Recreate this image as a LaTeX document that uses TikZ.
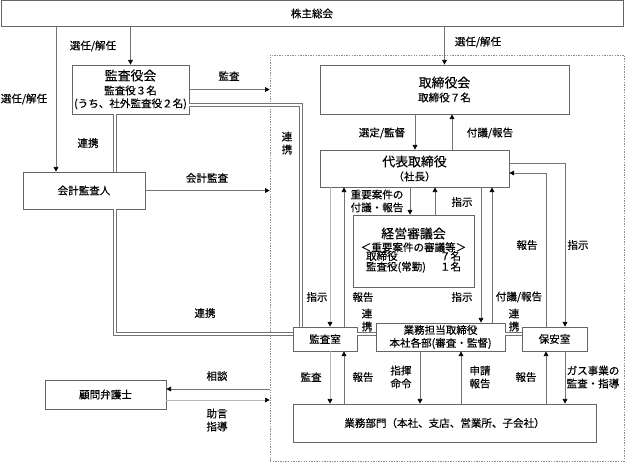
\documentclass[tikz,border=0pt]{standalone}
\usepackage{fontspec}
\setmainfont{Noto Sans CJK JP}[FakeBold=0.3]
\usetikzlibrary{arrows.meta}
\newcommand\bigtxt{\fontsize{11}{13}\selectfont}
\newcommand\smalltxt{\fontsize{9}{11}\selectfont}
\begin{document}
\begin{tikzpicture}[x=0.03cm, y=-0.03cm,
    every node/.style={align=center, inner sep=0pt, font=\smalltxt},
    box/.style={draw=black!60, fill=white, line width=0.6pt},
    link/.style={draw=black!55, line width=0.6pt, -{Triangle[length=4pt,width=4pt,color=black]}},
    lightlink/.style={link, draw=black!28},
    dblline/.style={draw=black!55, line width=2.6pt, postaction={draw=white, line width=1.2pt}},
    zone/.style={draw=black!45, dash pattern=on 1.2pt off 1pt, line width=0.5pt}]

  \useasboundingbox (0,0) rectangle (625,462);

  \node[zone, minimum width=10.62cm, minimum height=12.18cm] (zone) at (447,258) {};

  \node[box, minimum width=18.66cm, minimum height=0.76cm] (soukai) at (312,13.5) {株主総会};
  \node[box, minimum width=3.51cm, minimum height=1.47cm] (kansayakukai) at (130.5,89.5)
    {{\bigtxt 監査役会}\\[1pt]監査役３名\\(うち、社外監査役２名)};
  \node[box, minimum width=3.66cm, minimum height=1.11cm] (kaikei) at (84,190.5) {会計監査人};
  \node[box, minimum width=3.63cm, minimum height=0.87cm] (bengoshi) at (105.5,394.5) {顧問弁護士};
  \node[box, minimum width=7.47cm, minimum height=1.47cm] (torishimari) at (444.5,89.5)
    {{\bigtxt 取締役会}\\[1pt]取締役７名};
  \node[box, minimum width=5.67cm, minimum height=1.11cm] (daihyo) at (414.5,168.5)
    {{\bigtxt 代表取締役}\\[1pt]（社長）};
  \node[box, minimum width=3.63cm, minimum height=2.16cm] (keiei) at (413.5,251)
    {{\bigtxt 経営審議会}\\＜重要案件の審議等＞\\[-2pt]
     \begin{tabular*}{2.85cm}{@{}l@{\extracolsep{\fill}}r@{}}取締役&７名\\[-2pt]監査役(常勤)&１名\end{tabular*}};
  \node[box, minimum width=1.92cm, minimum height=0.72cm] (kansashitsu) at (325,339) {監査室};
  \node[box, minimum width=3.87cm, minimum height=0.84cm] (gyomutanto) at (440.5,337)
    {業務担当取締役\\本社各部(審査・監督)};
  \node[box, minimum width=1.95cm, minimum height=0.72cm] (hoan) at (554.5,339) {保安室};
  \node[box, minimum width=9.09cm, minimum height=1.14cm] (bumon) at (444.5,423)
    {業務部門（本社、支店、営業所、子会社）};

  \foreach \v in {56,115,301,330,344,410,415,420,435,452,461,481,492,546,565}
    \coordinate (x\v) at (\v,0);
  \foreach \v in {105,163,173,334,389,400}
    \coordinate (y\v) at (0,\v);

  \draw[link] (soukai.south -| kansayakukai.north) -- (kansayakukai.north);
  \draw[link] (soukai.south -| x56) -- (kaikei.north -| x56);
  \draw[link] (soukai.south -| torishimari.north) -- (torishimari.north);
  \draw[link] (kansayakukai.east) -- (kansayakukai.east -| zone.west);
  \draw[link] (kaikei.east) -- (kaikei.east -| zone.west);
  \draw[link] (zone.west |- y389) -- (bengoshi.east |- y389);
  \draw[lightlink] (bengoshi.east |- y400) -- (zone.west |- y400);

  \draw[dblline] (kansayakukai.east |- y105) -| (kansashitsu.north -| x301);
  \draw[dblline] (kansayakukai.south -| x115) -- (kaikei.north -| x115);
  \draw[dblline] (kaikei.south -| x115) |- (kansashitsu.west |- y334);
  \draw[dblline] (kansashitsu.east |- y334) -- (gyomutanto.west |- y334);
  \draw[dblline] (gyomutanto.east |- y334) -- (hoan.west |- y334);

  \draw[link] (torishimari.south -| x415) -- (daihyo.north -| x415);
  \draw[link] (daihyo.north -| x452) -- (torishimari.south -| x452);
  \draw[link] (daihyo.south -| x410) -- (keiei.north -| x410);
  \draw[link] (keiei.north -| x435) -- (daihyo.south -| x435);
  \draw[lightlink] (daihyo.south -| x330) -- (kansashitsu.north -| x330);
  \draw[link] (kansashitsu.north -| x344) -- (daihyo.south -| x344);
  \draw[link] (daihyo.south -| x481) -- (gyomutanto.north -| x481);
  \draw[link] (gyomutanto.north -| x492) -- (daihyo.south -| x492);
  \draw[link] (daihyo.east |- y163) -| (hoan.north -| x565);
  \draw[link] (hoan.north -| x546) |- (daihyo.east |- y173);
  \draw[lightlink] (kansashitsu.south -| x330) -- (bumon.north -| x330);
  \draw[link] (bumon.north -| x344) -- (kansashitsu.south -| x344);
  \draw[link] (gyomutanto.south -| x420) -- (bumon.north -| x420);
  \draw[link] (bumon.north -| x461) -- (gyomutanto.south -| x461);
  \draw[link] (bumon.north -| x546) -- (hoan.south -| x546);
  \draw[link] (hoan.south -| x565) -- (bumon.north -| x565);

  \node (senin-a) at (93,46) {選任/解任};
  \node (senin-b) at (24,99) {選任/解任};
  \node (senin-c) at (478,42) {選任/解任};
  \node (kansa-a) at (229,76) {監査};
  \node (renkei-a) at (287,143) {連\\携};
  \node (renkei-b) at (88,143) {連携};
  \node (kaikeikansa) at (207,178) {会計監査};
  \node (renkei-c) at (205,313) {連携};
  \node (soudan) at (217,376) {相談};
  \node (jogen) at (217,420) {助言\\指導};
  \node (sentei) at (382,133) {選定/監督};
  \node (fugi-a) at (490,133) {付議/報告};
  \node (juyou) at (377,201) {重要案件の\\付議・報告};
  \node (shiji-a) at (462,202) {指示};
  \node (shiji-b) at (317,297) {指示};
  \node (houkoku-a) at (363,297) {報告};
  \node (shiji-c) at (462,297) {指示};
  \node (fugi-b) at (519,297) {付議/報告};
  \node (houkoku-b) at (527,245) {報告};
  \node (shiji-d) at (578,245) {指示};
  \node (renkei-d) at (367,320) {連\\携};
  \node (renkei-e) at (514,320) {連\\携};
  \node (kansa-b) at (311,377) {監査};
  \node (houkoku-c) at (363,377) {報告};
  \node (shiki) at (401,377) {指揮\\命令};
  \node (shinsei) at (480,377) {申請\\報告};
  \node (houkoku-d) at (526,377) {報告};
  \node (gas) at (593,377) {ガス事業の\\監査・指導};

\end{tikzpicture}
\end{document}
